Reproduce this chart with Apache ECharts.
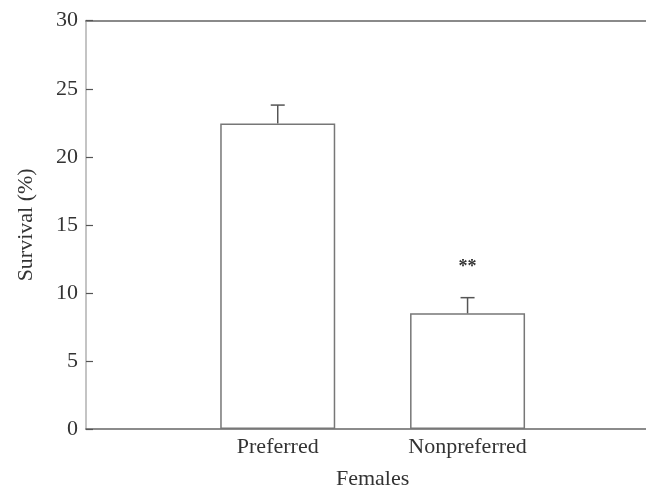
<!DOCTYPE html>
<html>
<head>
<meta charset="utf-8">
<script src="https://cdn.jsdelivr.net/npm/echarts@6/dist/echarts.min.js"></script>
<style>html,body{margin:0;padding:0;background:#fff}#c{width:646px;height:493px}</style>
</head>
<body>
<div id="c"></div>
<script>
var categories = ["Preferred", "Nonpreferred"];
var barPositions = [1, 2];
var survival = [22.45, 8.5];
var errorTop = [23.8, 9.65];
var sigMarks = ["", "**"];
var yTicks = [0, 5, 10, 15, 20, 25, 30];
var xTitle = "Females";
var yTitle = "Survival (%)";

var FONT = "Liberation Serif";
var chart = echarts.init(document.getElementById('c'), null, {renderer: 'canvas'});

var barData = barPositions.map(function (p, i) { return [p, survival[i]]; });
var errData = barPositions.map(function (p, i) { return [p, survival[i], errorTop[i]]; });

var option = {
  animation: false,
  backgroundColor: '#fff',
  grid: {left: 86, right: 0, top: 20.7, bottom: 64},
  xAxis: [{
    type: 'value', min: -0.01, max: 2.94, position: 'bottom',
    axisLine: {show: true, onZero: false, lineStyle: {color: '#666', width: 1.6}},
    axisTick: {show: false},
    axisLabel: {
      show: true, customValues: barPositions, margin: 7,
      fontFamily: FONT, fontSize: 22, color: '#333',
      formatter: function (v) { var i = barPositions.indexOf(v); return i >= 0 ? categories[i] : ''; }
    },
    splitLine: {show: false}
  }, {
    type: 'value', min: -0.01, max: 2.94, position: 'top',
    axisLine: {show: true, onZero: false, lineStyle: {color: '#8a8a8a', width: 2}},
    axisTick: {show: false}, axisLabel: {show: false}, splitLine: {show: false}
  }],
  yAxis: {
    type: 'value', min: yTicks[0], max: yTicks[yTicks.length - 1], interval: 5,
    name: yTitle, nameLocation: 'middle', nameGap: 49,
    nameTextStyle: {fontFamily: FONT, fontSize: 22, color: '#333'},
    axisLine: {show: true, onZero: false, lineStyle: {color: '#c4c4c4', width: 2}},
    axisTick: {show: true, inside: true, length: 7, lineStyle: {color: '#555', width: 1.2}},
    axisLabel: {fontFamily: FONT, fontSize: 22, color: '#333', margin: 8},
    splitLine: {show: false}
  },
  series: [{
    type: 'bar',
    data: barData,
    barWidth: 115,
    itemStyle: {color: '#fff', borderColor: '#777', borderWidth: 1.5},
    z: 2
  }, {
    type: 'custom',
    data: errData,
    z: 3,
    renderItem: function (params, api) {
      var x = api.value(0);
      var base = api.coord([x, api.value(1)]);
      var top = api.coord([x, api.value(2)]);
      var half = 7;
      var children = [
        {type: 'line', shape: {x1: base[0], y1: base[1], x2: top[0], y2: top[1]}, style: {stroke: '#555', lineWidth: 1.5}},
        {type: 'line', shape: {x1: top[0] - half, y1: top[1], x2: top[0] + half, y2: top[1]}, style: {stroke: '#555', lineWidth: 1.5}}
      ];
      var mark = sigMarks[params.dataIndex];
      if (mark) {
        children.push({type: 'text', x: top[0], y: top[1] - 30,
          style: {text: mark, fontFamily: FONT, fontSize: 18, fontWeight: 'bold', fill: '#333', align: 'center', verticalAlign: 'middle'}});
      }
      return {type: 'group', children: children};
    }
  }]
};
chart.setOption(option);

var mid = (barPositions[0] + barPositions[barPositions.length - 1]) / 2;
var midPx = chart.convertToPixel({xAxisIndex: 0}, mid);
chart.setOption({
  graphic: [{type: 'text', x: midPx, y: 479,
    style: {text: xTitle, fontFamily: FONT, fontSize: 22, fill: '#333', align: 'center', verticalAlign: 'middle'}}]
});
</script>
</body>
</html>
